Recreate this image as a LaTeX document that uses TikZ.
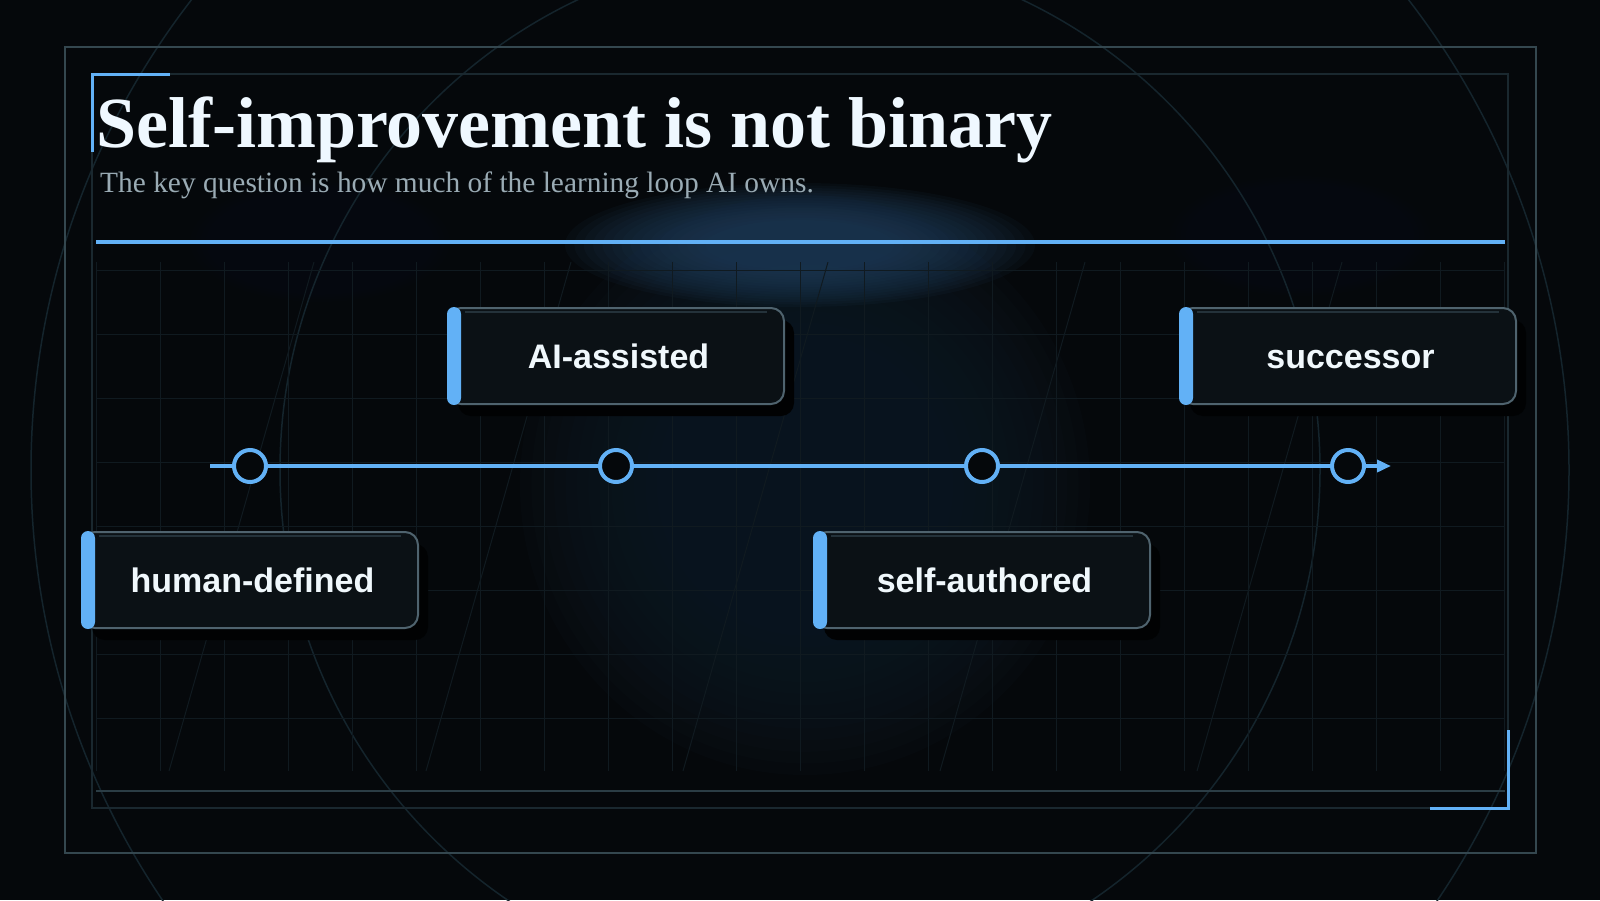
\documentclass[tikz,border=0pt]{standalone}
\usepackage{fontspec}
\setmainfont{Liberation Serif}
\newfontfamily\labelfont{Liberation Sans}
\usetikzlibrary{arrows.meta,shadows}

\definecolor{bg}{HTML}{05080B}
\definecolor{glowc}{HTML}{0F1A25}
\definecolor{glowtop}{HTML}{22405E}
\definecolor{glowside}{HTML}{101C28}
\definecolor{arcc}{HTML}{14242C}
\definecolor{gridc}{HTML}{101A20}
\definecolor{framec}{HTML}{34474F}
\definecolor{innerc}{HTML}{1A282F}
\definecolor{rulec}{HTML}{2B3D45}
\definecolor{accent}{HTML}{62B1F6}
\definecolor{boxfill}{HTML}{0B1115}
\definecolor{boxline}{HTML}{4F636E}
\definecolor{hiline}{HTML}{24323A}
\definecolor{shadowc}{HTML}{010203}
\definecolor{titlec}{HTML}{EFF8FF}
\definecolor{subc}{HTML}{9AABB4}
\definecolor{labelc}{HTML}{F0F8FC}

\tikzset{
  arcline/.style={draw=arcc, line width=1.5pt},
  gridline/.style={draw=gridc, line width=1pt},
  stagebox/.style={draw=boxline, line width=2pt, fill=boxfill, rounded corners=13pt,
    minimum width=336pt, minimum height=96pt, inner sep=0pt,
    text height=24pt, text depth=0pt,
    font=\labelfont\bfseries\fontsize{34}{40}\selectfont, text=labelc,
    drop shadow={shadow xshift=10pt, shadow yshift=-12pt, opacity=1, fill=shadowc}},
  stagebar/.style={fill=accent, rounded corners=7pt},
  hilite/.style={draw=hiline, line width=2pt},
  dot/.style={circle, draw=accent, line width=4pt, fill=bg, minimum size=32pt, inner sep=0pt},
  tline/.style={draw=accent, line width=4pt},
  cornermark/.style={draw=accent, line width=3pt},
}

% soft glow: centre x, centre y, rx, ry, colour, step opacity
\newcommand\softglow[6]{%
  \foreach \s in {1.0,0.96,...,0.38} {
    \fill[#5, opacity=#6] (#1,#2) ellipse ({#3*\s} and {#4*\s});
  }}

\begin{document}
\begin{tikzpicture}[x=1pt,y=-1pt]
\useasboundingbox (0,0) rectangle (1600,900);
\fill[bg] (0,0) rectangle (1600,900);

% glows
\softglow{805}{485}{285}{290}{glowc}{0.13}
\softglow{320}{242}{130}{60}{glowside}{0.04}
\softglow{1300}{236}{130}{60}{glowside}{0.04}
\softglow{800}{245}{235}{62}{glowtop}{0.09}

% decorative arcs
\draw[arcline] (800,470) circle (769);
\draw[arcline] (800,470) circle (520);

% grid
\foreach \i in {0,...,22} { \draw[gridline] ({96+64*\i},262) -- ({96+64*\i},771); }
\foreach \j in {0,...,7} { \draw[gridline] (96,{270+64*\j}) -- (1504,{270+64*\j}); }
\begin{scope}
  \clip (96,262) rectangle (1504,771);
  \foreach \k in {0,...,4} { \draw[gridline] ({314+257*\k},262) -- ({169+257*\k},771); }
\end{scope}

% frames
\draw[draw=framec, line width=2pt] (65,47) rectangle (1536,853);
\draw[draw=innerc, line width=2pt] (92,74) rectangle (1508,808);
\draw[draw=rulec, line width=2pt] (96,791) -- (1505,791);
\draw[cornermark] (170,74) -- (92,74) -- (92,152);
\draw[cornermark] (1508,730) -- (1508,808) -- (1430,808);

% title
\node[anchor=base west, inner sep=0pt, text=titlec, font=\bfseries\fontsize{72}{80}\selectfont] (title) at (96,147) {Self-improvement is not binary};
\node[anchor=base west, inner sep=0pt, text=subc, font=\fontsize{29.4}{34}\selectfont] (subtitle) at (100,192) {The key question is how much of the learning loop AI owns.};
\draw[draw=accent, line width=4pt] (96,242) -- (1505,242);

% timeline
\node[dot] (c1) at (250,466) {};
\node[dot] (c2) at (616,466) {};
\node[dot] (c3) at (982,466) {};
\node[dot] (c4) at (1348,466) {};
\coordinate (tstart) at (210,466);
\coordinate (tend) at (1391,466);
\draw[tline] (tstart) -- (c1);
\draw[tline] (c1) -- (c2);
\draw[tline] (c2) -- (c3);
\draw[tline] (c3) -- (c4);
\draw[tline, -{Triangle[length=14pt,width=12pt]}] (c4) -- (tend);

% stage boxes
\foreach \name/\cx/\cy/\txt in {b1/250/580/human-defined, b2/616/356/AI-assisted, b3/982/580/self-authored, b4/1348/356/successor} {
  \node[stagebox] (\name) at (\cx,\cy) {\hspace*{5pt}\txt};
  \draw[hilite] ([xshift=18pt,yshift=-5pt]\name.north west) -- ([xshift=-18pt,yshift=-5pt]\name.north east);
  \fill[stagebar] (\name.north west) rectangle ([xshift=14pt]\name.south west);
}
\end{tikzpicture}
\end{document}
